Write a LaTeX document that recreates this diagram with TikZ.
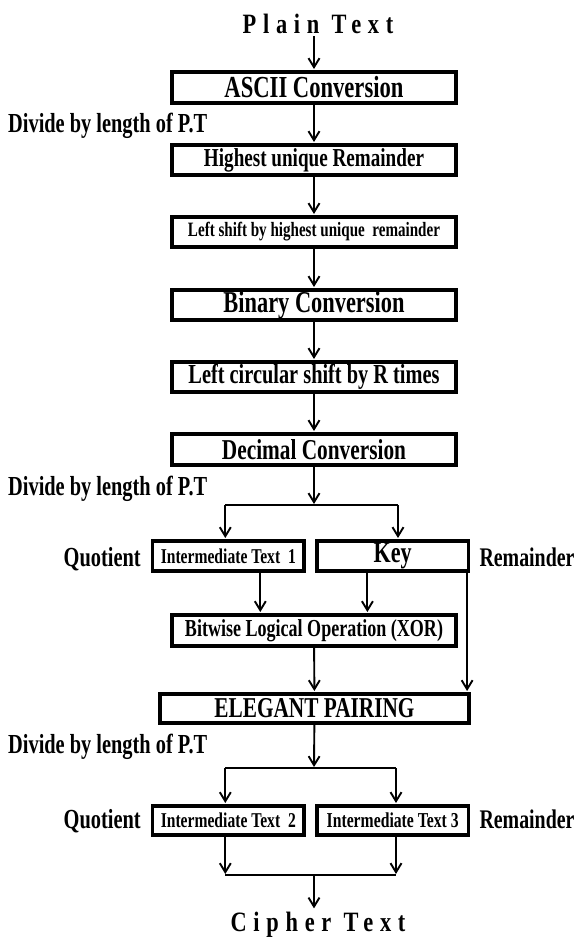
\documentclass[tikz,border=0pt]{standalone}
\usepackage{graphicx}
\usepackage{fontspec}
\setmainfont[FakeStretch=0.74]{Liberation Serif}
\newfontfamily\spacedfont[FakeStretch=0.8,LetterSpace=24]{Liberation Serif}
\usetikzlibrary{arrows.meta}
\newcommand\fitw[2]{\resizebox{#1pt}{!}{\bfseries #2}}
\begin{document}
\begin{tikzpicture}[x=1pt,y=-1pt,
  bx/.style={draw, line width=3.6pt, inner sep=0pt},
  mainbox/.style={bx, minimum width=284.4pt},
  sidebox/.style={bx, minimum width=151.6pt},
  lbl/.style={inner sep=0pt, font=\bfseries},
  arr/.style={line width=1.9pt, -{Straight Barb[length=9pt,width=11pt]}, shorten >=1pt},
  ln/.style={line width=1.9pt}]
\useasboundingbox (0,0) rectangle (579,938);
% title
\node[lbl, anchor=base] (plain) at (318,33) {\spacedfont\bfseries\fontsize{28}{30}\selectfont Plain Text};
% main column
\node[mainbox, minimum height=31.4pt] (ascii)  at (314,87.5) {\fitw{179}{ASCII Conversion}};
\node[mainbox, minimum height=30.4pt] (high)   at (314,160)  {\fitw{220}{Highest unique Remainder}};
\node[mainbox, minimum height=30.4pt] (lshift) at (314,232)  {\fitw{252}{Left shift by highest unique~ remainder}};
\node[mainbox, minimum height=30.4pt] (binary) at (314,305)  {\fitw{181}{Binary Conversion}};
\node[mainbox, minimum height=30.4pt] (circ)   at (314,377)  {\fitw{251}{Left circular shift by R times}};
\node[mainbox, minimum height=31.4pt] (dec)    at (314,449.5){\fitw{184}{Decimal Conversion}};
\node[sidebox, minimum height=30.4pt] (it1) at (228.3,556) {\fitw{135}{Intermediate Text~ 1}};
\node[sidebox, minimum height=30.4pt] (key) at (392.7,556) {\fitw{38}{Key}};
\node[mainbox, minimum height=31.4pt] (xor) at (314,630.5) {\fitw{258}{Bitwise Logical Operation (XOR)}};
\node[bx, minimum width=309.4pt, minimum height=29.4pt] (eleg) at (314.5,708.5) {\fitw{200}{ELEGANT PAIRING}};
\node[sidebox, minimum height=29.4pt] (it2) at (228.3,820.5) {\fitw{135}{Intermediate Text~ 2}};
\node[sidebox, minimum height=29.4pt] (it3) at (392.7,820.5) {\fitw{132}{Intermediate Text 3}};
\node[lbl, anchor=base] (cipher) at (318,931) {\spacedfont\bfseries\fontsize{28}{30}\selectfont Cipher Text};
% side labels
\node[lbl, anchor=base west] (div1) at (8,132) {\fitw{199}{Divide by length of P.T}};
\node[lbl, anchor=base west] (div2) at (8,495) {\fitw{199}{Divide by length of P.T}};
\node[lbl, anchor=base west] (div3) at (8,753) {\fitw{199}{Divide by length of P.T}};
\node[lbl, anchor=base west] (quo1) at (63.5,566) {\fitw{77}{Quotient}};
\node[lbl, anchor=base west] (rem1) at (479.3,566) {\fitw{95}{Remainder}};
\node[lbl, anchor=base west] (quo2) at (63.5,828) {\fitw{77}{Quotient}};
\node[lbl, anchor=base west] (rem2) at (479.3,828) {\fitw{95}{Remainder}};
% helper coordinates
\coordinate (b1)  at (314,505);
\coordinate (b1l) at (225.3,505);
\coordinate (b1r) at (398,505);
\coordinate (xa) at (260.3,0);
\coordinate (xb) at (367.4,0);
\coordinate (kx) at (467.1,0);
\coordinate (b2)  at (314,768);
\coordinate (b2l) at (225.3,768);
\coordinate (b2r) at (396,768);
\coordinate (m2)  at (314,875);
\coordinate (m2l) at (225.3,875);
\coordinate (m2r) at (396,875);
% connectors
\draw[arr, shorten <=3pt] (plain.south -| ascii.north) -- (ascii.north);
\draw[arr] (ascii) -- (high);
\draw[arr] (high) -- (lshift);
\draw[arr] (lshift) -- (binary);
\draw[arr] (binary) -- (circ);
\draw[arr] (circ) -- (dec);
\draw[arr] (dec) -- (b1);
\draw[ln] (b1l) -- (b1r);
\draw[arr] (b1l) -- (b1l |- it1.north);
\draw[arr] (b1r) -- (b1r |- key.north);
\draw[arr] (xa |- it1.south) -- (xa |- xor.north);
\draw[arr] (xb |- key.south) -- (xb |- xor.north);
\draw[arr] (kx |- key.south) -- (kx |- eleg.north);
\draw[arr] (xor) -- (eleg);
\draw[arr] (eleg) -- (b2);
\draw[ln] (b2l) -- (b2r);
\draw[arr] (b2l) -- (b2l |- it2.north);
\draw[arr] (b2r) -- (b2r |- it3.north);
\draw[arr] (m2l |- it2.south) -- (m2l);
\draw[arr] (m2r |- it3.south) -- (m2r);
\draw[ln] (m2l) -- (m2r);
\draw[arr, shorten >=3pt] (m2) -- (m2 |- cipher.north);
\end{tikzpicture}
\end{document}
